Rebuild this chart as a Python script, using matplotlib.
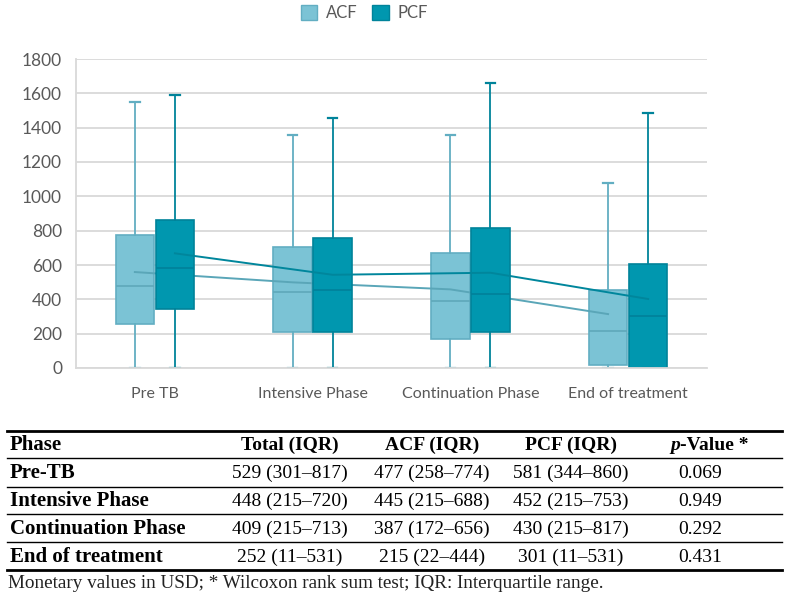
import matplotlib
matplotlib.use("Agg")
import matplotlib.pyplot as plt
from matplotlib.lines import Line2D
from matplotlib.patches import Patch

# --- data ---
phases = ["Pre TB", "Intensive Phase", "Continuation Phase", "End of treatment"]

acf_q1 = [258, 208, 169, 17]
acf_med = [477, 443, 388, 214]
acf_q3 = [774, 703, 670, 452]
acf_min = [0, 0, 0, 0]
acf_max = [1552, 1355, 1355, 1075]
acf_mean = [559, 499, 458, 314]

pcf_q1 = [344, 211, 210, 2]
pcf_med = [581, 454, 429, 301]
pcf_q3 = [860, 755, 815, 604]
pcf_min = [0, 0, 0, 0]
pcf_max = [1593, 1456, 1660, 1485]
pcf_mean = [668, 543, 555, 402]

# --- table ---
tbl_header = ["Phase", "Total (IQR)", "ACF (IQR)", "PCF (IQR)", "-Value *"]
tbl_phase = ["Pre-TB", "Intensive Phase", "Continuation Phase", "End of treatment"]
tbl_total = ["529 (301–817)", "448 (215–720)", "409 (215–713)", "252 (11–531)"]
tbl_acf = ["477 (258–774)", "445 (215–688)", "387 (172–656)", "215 (22–444)"]
tbl_pcf = ["581 (344–860)", "452 (215–753)", "430 (215–817)", "301 (11–531)"]
tbl_p = ["0.069", "0.949", "0.292", "0.431"]
footnote = "Monetary values in USD; * Wilcoxon rank sum test; IQR: Interquartile range."

W, H = 790, 598
fig = plt.figure(figsize=(W / 100, H / 100), dpi=100)

def fx(px):
    return px / W

def fy(py):
    return 1 - py / H

ax = fig.add_axes([fx(76), fy(368), fx(707) - fx(76), fy(59) - fy(368)])

acf_fill, acf_edge, acf_line = "#7bc3d5", "#62aec2", "#5aa6b8"
pcf_fill, pcf_edge, pcf_line = "#0097af", "#00839a", "#00869c"
grid_c = "#d9d9d9"
txt_c = "#595959"

def stats(q1, med, q3, lo, hi, mean):
    return [dict(q1=a, med=b, q3=c, whislo=d, whishi=e, mean=f, fliers=[])
            for a, b, c, d, e, f in zip(q1, med, q3, lo, hi, mean)]

off = 0.127
bw = 0.245
x = list(range(len(phases)))
pos_acf = [i - off for i in x]
pos_pcf = [i + off for i in x]

def draw(st, pos, fill, edge, med_c, z):
    ax.bxp(st, positions=pos, widths=bw, showfliers=False, showmeans=False,
           patch_artist=True, capwidths=0.06, manage_ticks=False,
           boxprops=dict(facecolor=fill, edgecolor=edge, linewidth=1.2, zorder=z),
           medianprops=dict(color=med_c, linewidth=1.2, zorder=z + 0.1),
           whiskerprops=dict(color=edge, linewidth=1.3, zorder=z),
           capprops=dict(color=edge, linewidth=1.6, zorder=z))

draw(stats(acf_q1, acf_med, acf_q3, acf_min, acf_max, acf_mean), pos_acf,
     acf_fill, acf_edge, "#5fa8ba", 2)
ax.plot(pos_acf, acf_mean, color=acf_line, lw=1.4, zorder=3)
draw(stats(pcf_q1, pcf_med, pcf_q3, pcf_min, pcf_max, pcf_mean), pos_pcf,
     pcf_fill, pcf_edge, "#00819a", 4)
ax.plot(pos_pcf, pcf_mean, color=pcf_line, lw=1.4, zorder=5)

ax.set_xlim(-0.5, 3.5)
ax.set_ylim(0, 1800)
ax.set_yticks(range(0, 1801, 200))
ax.set_xticks(x)
ax.set_xticklabels(phases)
ax.yaxis.grid(True, color=grid_c, lw=1.3, zorder=0)
ax.set_axisbelow(True)
for s in ["top", "right"]:
    ax.spines[s].set_visible(False)
for s in ["left", "bottom"]:
    ax.spines[s].set_color(grid_c)
    ax.spines[s].set_linewidth(1.3)
ax.spines["bottom"].set_zorder(10)
ax.tick_params(axis="both", length=0, colors=txt_c, labelsize=11.5)
ax.tick_params(axis="y", labelsize=12.5, pad=10)
ax.tick_params(axis="x", pad=14)
for lab in ax.get_xticklabels() + ax.get_yticklabels():
    lab.set_family("Lato")

handles = [Patch(facecolor=acf_fill, edgecolor=acf_edge, label="ACF"),
           Patch(facecolor=pcf_fill, edgecolor=pcf_edge, label="PCF")]
fig.legend(handles=handles, loc="center", bbox_to_anchor=(fx(364), fy(13)), ncol=2,
           frameon=False, prop=dict(family="Lato", size=12), labelcolor=txt_c,
           handlelength=1.0, handleheight=1.0, handletextpad=0.5, columnspacing=0.9)

# --- table below the chart ---
serif = "Liberation Serif"
fs = 14
lx0, lx1 = fx(7), fx(782)
for py, lw in [(431, 2.0), (458, 1.0), (487, 1.0), (514, 1.0), (542, 1.0), (570, 2.0)]:
    fig.add_artist(Line2D([lx0, lx1], [fy(py), fy(py)], color="black", lw=lw))

col_x = [10, 290, 432, 571, 700]
hy = fy(445)
fig.text(fx(col_x[0]), hy, tbl_header[0], family=serif, weight="bold", size=fs + 1,
         ha="left", va="center")
for cx, t in zip(col_x[1:4], tbl_header[1:4]):
    fig.text(fx(cx), hy, t, family=serif, weight="bold", size=fs, ha="center", va="center")
fig.text(fx(680), hy, "p", family=serif, weight="bold", style="italic", size=fs,
         ha="right", va="center")
fig.text(fx(680), hy, tbl_header[4], family=serif, weight="bold", size=fs,
         ha="left", va="center")

row_y = [473, 501, 529, 557]
for i, ry in enumerate(row_y):
    yy = fy(ry)
    fig.text(fx(col_x[0]), yy, tbl_phase[i], family=serif, weight="bold", size=fs + 1,
             ha="left", va="center")
    for cx, col in zip(col_x[1:], [tbl_total, tbl_acf, tbl_pcf, tbl_p]):
        fig.text(fx(cx), yy, col[i], family=serif, size=fs, ha="center", va="center")

fig.text(fx(8), fy(583), footnote, family=serif, size=13.8, color="#222222",
         ha="left", va="center")

fig.savefig("out.png", dpi=100, facecolor="white")
